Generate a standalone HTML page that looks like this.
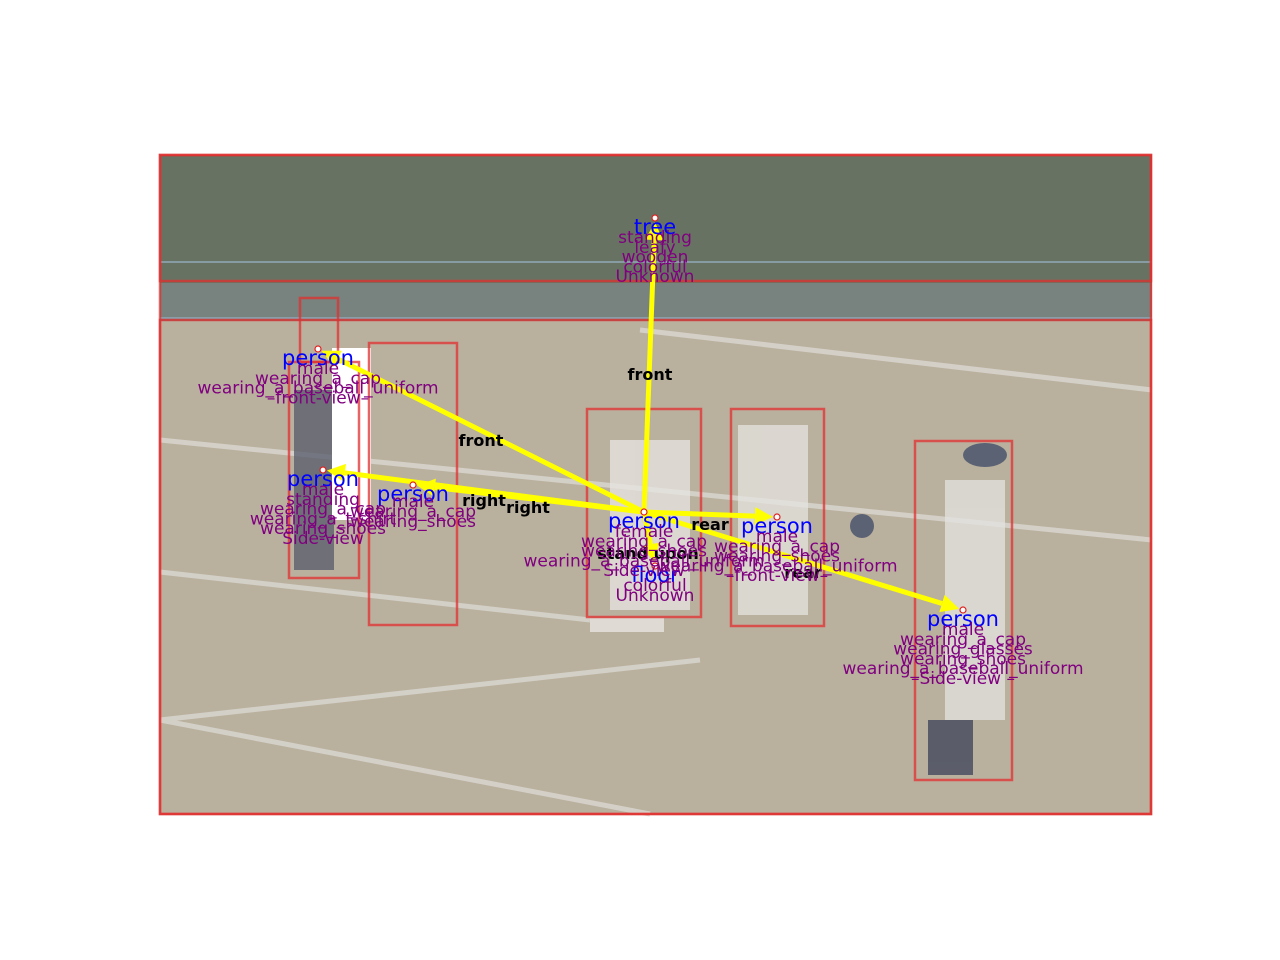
<!DOCTYPE html>
<html><head><meta charset="utf-8">
<style>
html,body{margin:0;padding:0;background:#fff;}
svg{display:block;font-family:"DejaVu Sans","Liberation Sans",sans-serif;}
</style></head>
<body>
<svg id="chart" width="1280" height="960" viewBox="0 0 1280 960">
  <g>
    <rect x="160" y="155" width="992" height="660" fill="#bab09e"/>
    <rect x="160" y="155" width="992" height="130" fill="#687262"/>
    <rect x="160" y="283" width="992" height="38" fill="#78827e"/>
    <g stroke="#8fa6b4" stroke-width="2" opacity="0.8">
      <line x1="160" y1="262" x2="1152" y2="262"/>
      <line x1="160" y1="318" x2="1152" y2="318"/>
    </g>
    <g stroke="#d8d6cf" stroke-width="5" fill="none" opacity="0.85">
      <line x1="160" y1="440" x2="1152" y2="540"/>
      <line x1="160" y1="572" x2="590" y2="620"/>
      <line x1="160" y1="720" x2="700" y2="660"/>
      <line x1="160" y1="720" x2="650" y2="814"/>
      <line x1="640" y1="330" x2="1152" y2="390"/>
    </g>
    <g opacity="0.75">
      <rect x="294" y="390" width="40" height="180" fill="#54596a"/>
      <rect x="610" y="440" width="80" height="170" fill="#e8e6e2"/>
      <rect x="738" y="425" width="70" height="190" fill="#e5e4e0"/>
      <rect x="945" y="480" width="60" height="240" fill="#e4e3e0"/>
      <rect x="928" y="720" width="45" height="55" fill="#3b4258"/>
      <ellipse cx="985" cy="455" rx="22" ry="12" fill="#3c4866"/>
      <ellipse cx="862" cy="526" rx="12" ry="12" fill="#3c4866"/>
      <rect x="590" y="618" width="74" height="14" fill="#eceae6"/>
    </g>
    <rect x="332" y="348" width="39" height="172" fill="#ffffff"/>
  </g>
  <g id="boxes"></g>
  <g id="arrows"></g>
  <g id="labels"></g>
</svg>
<script>
const NS = "http://www.w3.org/2000/svg";
const nodeNames = ["image-frame","tree","floor","person-far","person-umpire","person-mid","person-female","person-male","person-right"];
const nodeLabels = [null,"tree","floor","person","person","person","person","person","person"];
const nodeBoxes = [[160,155,1151,814],[160,155,1151,281],[160,320,1151,814],[300,298,338,362],[289,362,359,578],[369,343,457,625],[587,409,701,617],[731,409,824,626],[915,441,1012,780]];
const nodeCenters = [null,[655,218],[655,566],[318,349],[323,470],[413,485],[644,512],[777,517],[963,610]];
const nodeAttrs = [[],
  ["standing","leafy","wooden","colorful","Unknown"],
  ["colorful","Unknown"],
  ["male","wearing_a_cap","wearing_a_baseball_uniform","\u2013front-view\u2013"],
  ["male","standing","wearing_a_cap","wearing_a_t-shirt","wearing_shoes","Side-view"],
  [],
  ["female","wearing_a_cap","wearing_shoes","wearing_a_baseball_uniform","Side-view"],
  ["male","wearing_a_cap","wearing_shoes","wearing_a_baseball_uniform","\u2013front-view\u2013"],
  ["male","wearing_a_cap","wearing_glasses","wearing_shoes","wearing_a_baseball_uniform","\u2013Side-view \u2013"]];
const relFrom = [6,6,6,6,6,6,6];
const relTo = [1,3,4,5,7,8,2];
const relText = ["front","front","right","right","rear","rear","stand upon"];
const relPos = [[650,374],[481,440],[528,507],[484,500],[710,524],[803,572],[648,553]];

const gB = document.getElementById("boxes");
nodeBoxes.forEach((b,i)=>{
  const r = document.createElementNS(NS,"rect");
  r.setAttribute("x",b[0]);r.setAttribute("y",b[1]);
  r.setAttribute("width",b[2]-b[0]);r.setAttribute("height",b[3]-b[1]);
  r.setAttribute("fill","none");r.setAttribute("stroke","#e03030");
  r.setAttribute("stroke-opacity","0.75");r.setAttribute("stroke-width","2.5");
  
  
  gB.appendChild(r);
});
const gA = document.getElementById("arrows");
relFrom.forEach((f,i)=>{
  const a = nodeCenters[f], b = nodeCenters[relTo[i]];
  const dx=b[0]-a[0], dy=b[1]-a[1], L=Math.hypot(dx,dy), ux=dx/L, uy=dy/L;
  const ex=b[0]-ux*4, ey=b[1]-uy*4, hx=ex-ux*18, hy=ey-uy*18;
  const g = document.createElementNS(NS,"g");
  
  
  const ln = document.createElementNS(NS,"line");
  ln.setAttribute("x1",a[0]);ln.setAttribute("y1",a[1]);ln.setAttribute("x2",hx);ln.setAttribute("y2",hy);
  ln.setAttribute("stroke","#ffff00");ln.setAttribute("stroke-width","5");
  g.appendChild(ln);
  const p = document.createElementNS(NS,"polygon");
  p.setAttribute("points",`${ex},${ey} ${hx-uy*9},${hy+ux*9} ${hx+uy*9},${hy-ux*9}`);
  p.setAttribute("fill","#ffff00");
  g.appendChild(p);
  gA.appendChild(g);
});
const gL = document.getElementById("labels");
relText.forEach((t,i)=>{
  const tx = document.createElementNS(NS,"text");
  tx.setAttribute("x",relPos[i][0]);tx.setAttribute("y",relPos[i][1]+6);
  tx.setAttribute("text-anchor","middle");tx.setAttribute("font-size","16");
  tx.setAttribute("font-weight","bold");tx.setAttribute("fill","#000");
  tx.textContent=t;
  
  
  gL.appendChild(tx);
});
nodeLabels.forEach((lab,i)=>{
  if(!lab) return;
  const c = nodeCenters[i];
  const d = document.createElementNS(NS,"circle");
  d.setAttribute("cx",c[0]);d.setAttribute("cy",c[1]);d.setAttribute("r","3");
  d.setAttribute("fill","#fff");d.setAttribute("stroke","#e02020");d.setAttribute("stroke-width","1.2");
  
  
  gL.appendChild(d);
  const t = document.createElementNS(NS,"text");
  t.setAttribute("x",c[0]);t.setAttribute("y",c[1]+16);
  t.setAttribute("text-anchor","middle");t.setAttribute("font-size","21");t.setAttribute("fill","#0000ff");
  t.textContent=lab;
  
  
  gL.appendChild(t);
  nodeAttrs[i].forEach((at,k)=>{
    const a = document.createElementNS(NS,"text");
    a.setAttribute("x",c[0]);a.setAttribute("y",c[1]+25+k*9.8);
    a.setAttribute("text-anchor","middle");a.setAttribute("font-size","17");a.setAttribute("fill","#800080");
    a.textContent=at;
    
    
    gL.appendChild(a);
  });
});
[["male",413,507],["wearing_a_cap",413,517],["wearing_shoes",413,527]].forEach((m,k)=>{
  const a = document.createElementNS(NS,"text");
  a.setAttribute("x",m[1]);a.setAttribute("y",m[2]);
  a.setAttribute("text-anchor","middle");a.setAttribute("font-size","17");a.setAttribute("fill","#800080");
  a.textContent=m[0];
  
  
  gL.appendChild(a);
});
</script>
</body></html>
